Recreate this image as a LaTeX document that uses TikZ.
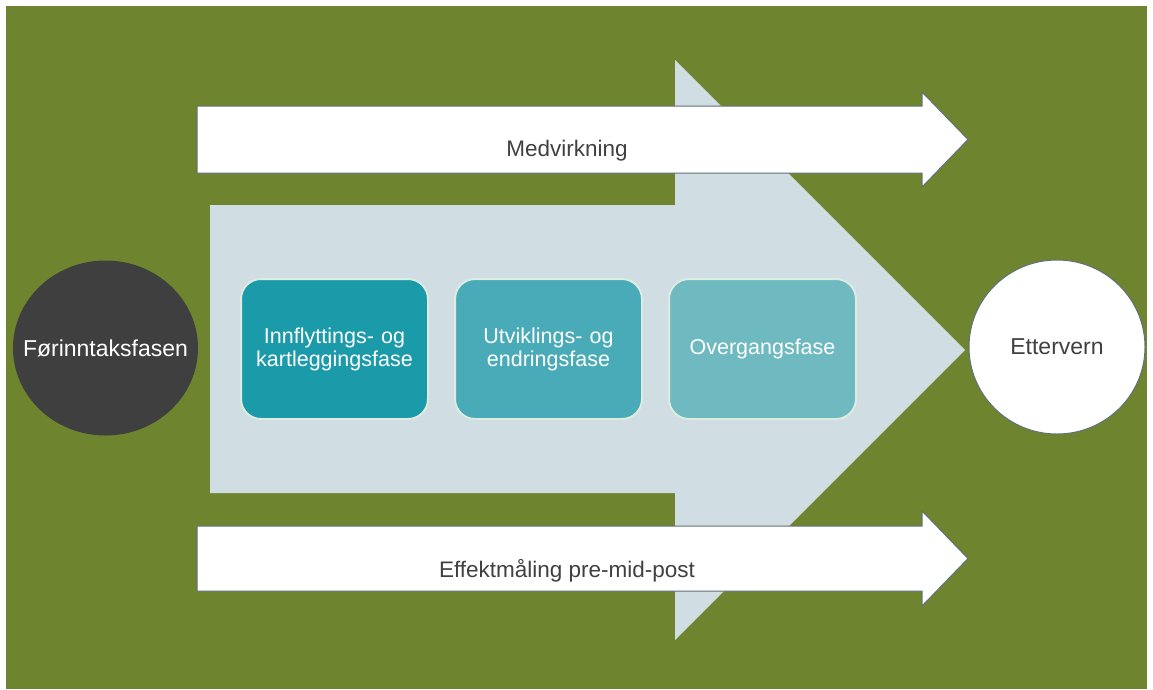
\documentclass[tikz,border=0pt]{standalone}
\usepackage{fontspec}
\setmainfont{Liberation Sans}
\usepackage{tikz}
\usetikzlibrary{positioning, shapes.geometric}
\definecolor{bggreen}{RGB}{111,132,47}
\definecolor{phasebg}{RGB}{208,221,226}
\definecolor{flowline}{RGB}{96,112,120}
\definecolor{txtgray}{RGB}{64,64,64}
\definecolor{darkstage}{RGB}{63,63,63}
\definecolor{phaseline}{RGB}{220,236,224}
\definecolor{phaseA}{RGB}{27,154,170}
\definecolor{phaseB}{RGB}{74,171,184}
\definecolor{phaseC}{RGB}{111,185,192}
\tikzstyle{flow}=[fill=white, draw=flowline, line width=1pt]
\tikzstyle{flowtext}=[text=txtgray, font=\fontsize{22.5}{26}\selectfont]
\tikzstyle{phase}=[rectangle, rounded corners=20pt, draw=phaseline, line width=2pt, minimum width=187pt, minimum height=140pt, text width=180pt, align=center, text=white, font=\fontsize{21.5}{23}\selectfont]
\tikzstyle{stage}=[ellipse, inner sep=0pt, label distance=0pt]
\tikzstyle{stagetext}=[font=\fontsize{23}{26}\selectfont]

\begin{document}
\begin{tikzpicture}[x=1pt, y=-1pt]
  \useasboundingbox (0,0) rectangle (1153,689);
  \fill[bggreen] (6,6) rectangle (1147,689);
  % big phase arrow
  \fill[phasebg] (210,205) -- (675,205) -- (675,60) -- (965,350) -- (675,640)
                 -- (675,493) -- (210,493) -- cycle;
  % top and bottom arrows
  \draw[flow] (197,106) -- (922,106) -- (922,92) -- (968,139.5) -- (922,187)
              -- (922,173) -- (197,173) -- cycle;
  \draw[flow] (197,526) -- (922,526) -- (922,511) -- (968,558.5) -- (922,606)
              -- (922,591) -- (197,591) -- cycle;
  \node[flowtext] (medv) at (567,151) {Medvirkning};
  \node[flowtext] (effekt) at (567,571) {Effektmåling pre-mid-post};

  \node[phase, fill=phaseA] (innflytt) at (334.5,349) {Innflyttings- og\\kartleggingsfase};
  \node[phase, fill=phaseB] (utvikl) [right=25pt of innflytt] {Utviklings- og\\endringsfase};
  \node[phase, fill=phaseC] (overgang) [right=25pt of utvikl] {Overgangsfase};

  \node[stage, fill=darkstage, minimum width=185pt, minimum height=175pt,
        label={[stagetext, text=white]center:Førinntaksfasen}] (forinntak) at (105.5,348) {};
  \node[stage, fill=white, draw=flowline, line width=1pt, minimum width=176pt, minimum height=174pt,
        label={[stagetext, text=txtgray]center:Ettervern}] (ettervern) at (1057,347) {};
\end{tikzpicture}
\end{document}
